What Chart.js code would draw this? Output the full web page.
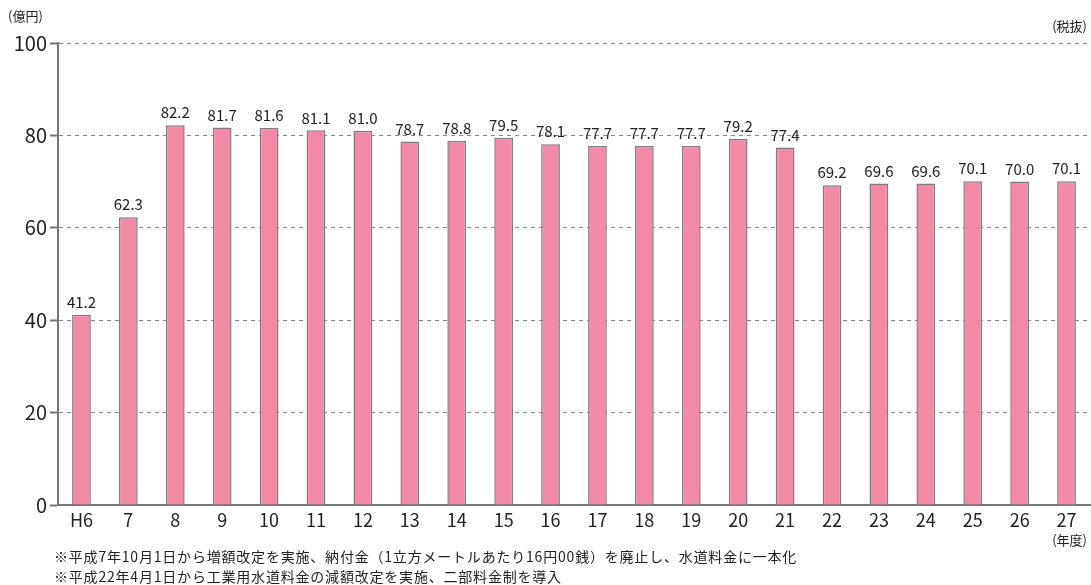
<!DOCTYPE html>
<html lang="ja">
<head>
<meta charset="utf-8">
<script src="https://cdn.jsdelivr.net/npm/chart.js@4"></script>
<style>
  html, body { margin: 0; padding: 0; background: #fff; }
  #wrap { position: relative; width: 1091px; height: 585px; font-family: "Noto Sans CJK JP", "Noto Sans", sans-serif; color: #222; }
  canvas { position: absolute; left: 0; top: 0; }
  .note { position: absolute; white-space: nowrap; font-size: 13px; line-height: 1; }
  .foot { font-size: 14px; letter-spacing: 0.8px; }
</style>
</head>
<body>
<div id="wrap">
  <canvas id="chart" width="1091" height="585"></canvas>
  <div class="note" style="left:8px; top:9px;">(億円)</div>
  <div class="note" style="right:4px; top:19px;">(税抜)</div>
  <div class="note" style="right:4px; top:533px;">(年度)</div>
  <div class="note foot" style="left:54px; top:549px;">※平成7年10月1日から増額改定を実施、納付金（1立方メートルあたり16円00銭）を廃止し、水道料金に一本化</div>
  <div class="note foot" style="left:54px; top:569px;">※平成22年4月1日から工業用水道料金の減額改定を実施、二部料金制を導入</div>
</div>
<script>
// 年度
const years = ['H6', '7', '8', '9', '10', '11', '12', '13', '14', '15', '16',
               '17', '18', '19', '20', '21', '22', '23', '24', '25', '26', '27'];
// 億円（税抜）
const amounts = [41.2, 62.3, 82.2, 81.7, 81.6, 81.1, 81.0, 78.7, 78.8, 79.5, 78.1,
                 77.7, 77.7, 77.7, 79.2, 77.4, 69.2, 69.6, 69.6, 70.1, 70.0, 70.1];
const yTicks = [0, 20, 40, 60, 80, 100];

const fontFamily = '"Noto Sans CJK JP", "Noto Sans", sans-serif';

// 棒の上に数値を表示
const valueLabels = {
    id: 'valueLabels',
    afterDatasetsDraw(chart) {
        const ctx = chart.ctx;
        const meta = chart.getDatasetMeta(0);
        ctx.save();
        ctx.font = '15px ' + fontFamily;
        ctx.fillStyle = '#222';
        ctx.textAlign = 'center';
        ctx.textBaseline = 'bottom';
        meta.data.forEach((bar, i) => {
            ctx.fillText(amounts[i].toFixed(1), bar.x, bar.y - 5);
        });
        ctx.restore();
    }
};

new Chart(document.getElementById('chart'), {
    type: 'bar',
    data: {
        labels: years,
        datasets: [{
            data: amounts,
            backgroundColor: '#f289a6',
            borderColor: '#85797f',
            borderWidth: 1.5,
            barPercentage: 0.4,
            categoryPercentage: 1.0
        }]
    },
    options: {
        responsive: false,
        animation: false,
        layout: { padding: { top: 43, right: 1, left: 0, bottom: 0 } },
        plugins: {
            legend: { display: false },
            tooltip: { enabled: false }
        },
        scales: {
            x: {
                grid: { display: false, drawTicks: false },
                border: { display: true, color: '#777', width: 2 },
                ticks: {
                    color: '#222',
                    padding: 4,
                    font: { family: fontFamily, size: 18 }
                },
                afterFit(scale) { scale.height = 80; }
            },
            y: {
                min: 0,
                max: 100,
                afterBuildTicks(scale) {
                    scale.ticks = yTicks.map(v => ({ value: v }));
                },
                grid: {
                    color: '#888',
                    lineWidth: 1,
                    tickColor: '#777',
                    tickLength: 8,
                    tickWidth: 2,
                    tickBorderDash: []
                },
                border: { display: true, color: '#777', width: 2, dash: [4, 4] },
                ticks: {
                    color: '#222',
                    padding: 3,
                    font: { family: fontFamily, size: 20 }
                },
                afterFit(scale) { scale.width = 58; }
            }
        }
    },
    plugins: [valueLabels]
});
</script>
</body>
</html>
